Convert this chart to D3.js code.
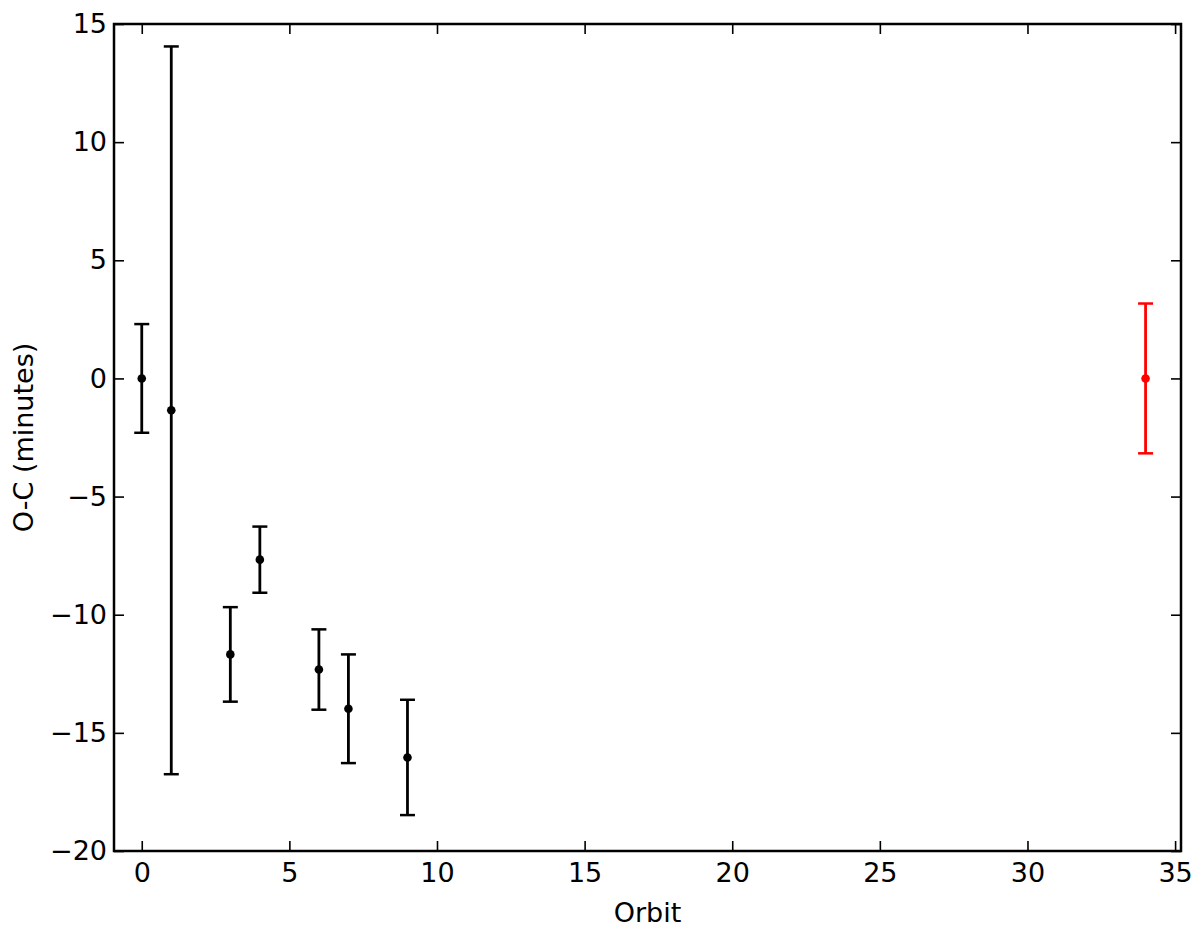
<!DOCTYPE html>
<html>
<head>
<meta charset="utf-8">
<script src="https://cdn.jsdelivr.net/npm/d3@7"></script>
<style>
  html, body { margin: 0; padding: 0; background: #fff; }
  svg { display: block; }
  text { font-family: "DejaVu Sans", sans-serif; fill: #000; }
</style>
</head>
<body>
<svg id="chart" width="1200" height="929"></svg>
<script>
// Data
const orbits    = [0, 1, 3, 4, 6, 7, 9];
const ocValues  = [0, -1.35, -11.68, -7.67, -12.32, -13.98, -16.04];
const ocErrors  = [2.3, 15.4, 2.0, 1.4, 1.7, 2.3, 2.44];
const predOrbit = [34];
const predValue = [0];
const predError = [3.17];
const xTicks = [0, 5, 10, 15, 20, 25, 30, 35];
const yTicks = [-20, -15, -10, -5, 0, 5, 10, 15];

(function () {
const mLeft = 114, mTop = 24, mRight = 1181, mBottom = 851;
const fs = "27px";

const svg = d3.select("#chart");
const x = d3.scaleLinear().domain([-0.94, 35.2]).range([mLeft, mRight]);
const y = d3.scaleLinear().domain([-20, 15]).range([mBottom, mTop]);

const fmt = d => (d < 0 ? "\u2212" + Math.abs(d) : String(d));
const tickLen = 10;

const gx = svg.append("g").attr("transform", `translate(0,${mBottom})`)
  .call(d3.axisBottom(x).tickValues(xTicks).tickFormat(fmt).tickSizeInner(-tickLen).tickSizeOuter(0).tickPadding(12));
const gxt = svg.append("g").attr("transform", `translate(0,${mTop})`)
  .call(d3.axisTop(x).tickValues(xTicks).tickFormat("").tickSizeInner(-tickLen).tickSizeOuter(0));
const gy = svg.append("g").attr("transform", `translate(${mLeft},0)`)
  .call(d3.axisLeft(y).tickValues(yTicks).tickFormat(fmt).tickSizeInner(-tickLen).tickSizeOuter(0).tickPadding(7));
const gyr = svg.append("g").attr("transform", `translate(${mRight},0)`)
  .call(d3.axisRight(y).tickValues(yTicks).tickFormat("").tickSizeInner(-tickLen).tickSizeOuter(0));

[gx, gxt, gy, gyr].forEach(g => {
  g.select(".domain").remove();
  g.selectAll(".tick line").attr("stroke", "#000").attr("stroke-width", 1.6);
  g.selectAll(".tick text").style("font-size", fs).attr("fill", "#000")
    .style("font-family", "DejaVu Sans, sans-serif");
});

svg.append("rect")
  .attr("x", mLeft).attr("y", mTop)
  .attr("width", mRight - mLeft).attr("height", mBottom - mTop)
  .attr("fill", "none").attr("stroke", "#000").attr("stroke-width", 2.5);

function drawSeries(xs, vs, es, color) {
  const g = svg.append("g");
  xs.forEach((xv, i) => {
    const cx = x(xv);
    const y1 = y(vs[i] + es[i]), y0 = y(vs[i] - es[i]);
    g.append("line").attr("x1", cx).attr("x2", cx).attr("y1", y1).attr("y2", y0)
      .attr("stroke", color).attr("stroke-width", 2.8);
    [y1, y0].forEach(cy => {
      g.append("line").attr("x1", cx - 7.5).attr("x2", cx + 7.5).attr("y1", cy).attr("y2", cy)
        .attr("stroke", color).attr("stroke-width", 2.5);
    });
    g.append("circle").attr("cx", cx).attr("cy", y(vs[i])).attr("r", 4.3).attr("fill", color);
  });
}
drawSeries(orbits, ocValues, ocErrors, "#000");
drawSeries(predOrbit, predValue, predError, "#ff0000");

svg.append("text")
  .attr("x", (mLeft + mRight) / 2).attr("y", 922)
  .attr("text-anchor", "middle").style("font-size", fs)
  .text("Orbit");
svg.append("text")
  .attr("transform", `translate(33,${(mTop + mBottom) / 2}) rotate(-90)`)
  .attr("text-anchor", "middle").style("font-size", fs)
  .text("O-C (minutes)");
})();
</script>
</body>
</html>
